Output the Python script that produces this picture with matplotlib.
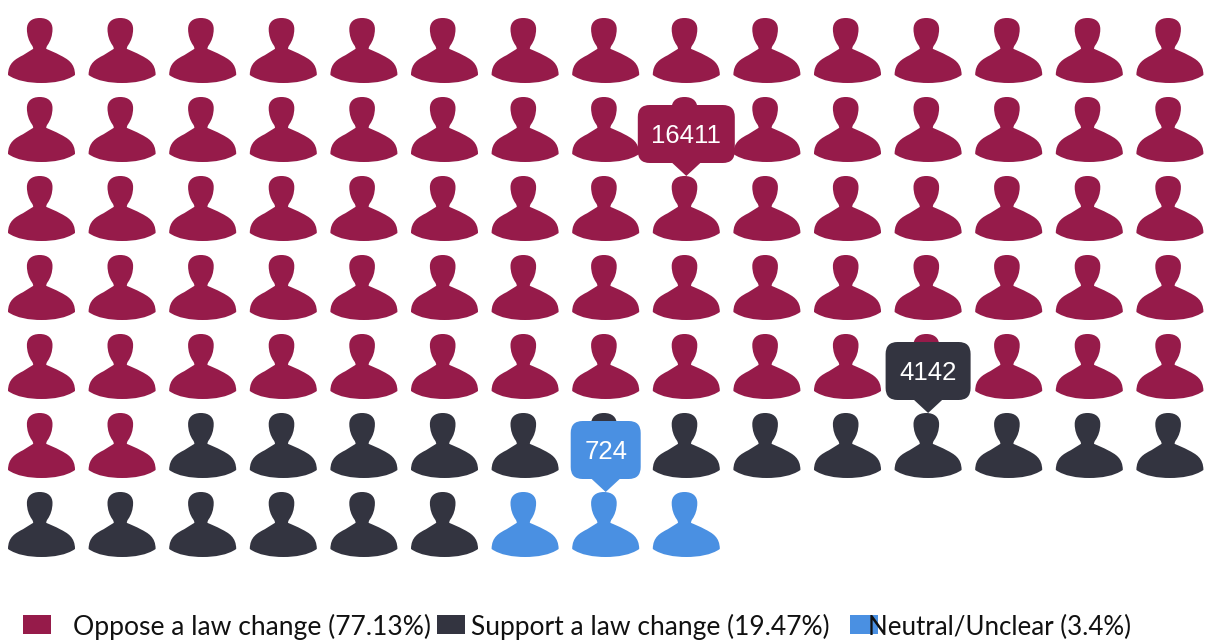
import matplotlib
matplotlib.use("Agg")
import matplotlib.pyplot as plt
from matplotlib.path import Path
from matplotlib.patches import PathPatch, Rectangle
import numpy as np

categories = ["Oppose a law change", "Support a law change", "Neutral/Unclear"]
icon_counts = [77, 19, 3]
percentages = ["77.13%", "19.47%", "3.4%"]
tooltip_values = [16411, 4142, 724]
colors = ["#961B4A", "#333440", "#4A90E2"]

COLS = 15
X0, DX = 41.5, 80.6
Y0, DY = 50.5, 79.0
tooltip_icon_index = [38, 86, 97]      # slot of the icon each tooltip points at
tooltip_half_w = [48.5, 42.5, 35]

dpi = 100
fig = plt.figure(figsize=(12.08, 6.44), dpi=dpi)
ax = fig.add_axes([0, 0, 1, 1])
ax.set_xlim(0, 1208)
ax.set_ylim(644, 0)
ax.axis("off")

# person silhouette, offsets in px from the icon centre (y down)
M, C, L, Z = Path.MOVETO, Path.CURVE4, Path.LINETO, Path.CLOSEPOLY
hx = -1.8  # the head sits slightly left of the shoulders
pts = [(hx, -32.5),
       (hx + 8.5, -32.5), (hx + 12.8, -28), (hx + 12.8, -21.5),      # crown R
       (hx + 12.8, -15), (hx + 10.8, -9.5), (hx + 8, -5.5),          # jaw R
       (hx + 6.8, -3.8), (hx + 6.4, -2.6), (4.8, -1.6),              # neck R
       (9, 0.2), (14, 2.2), (18.5, 4.7),                             # shoulder slope R
       (26, 8.5), (33.5, 12.5), (33.5, 24.5),                        # shoulder R
       (25, 30.5), (12, 32.5), (0, 32.5),                            # base R
       (-12, 32.5), (-25, 30.5), (-33.5, 24.5),                      # base L
       (-33.5, 12.5), (-26, 8.5), (-18.5, 4.7),                      # shoulder L
       (-15, 2.6), (-11.5, 0.2), (-8.4, -1.6),                       # shoulder slope L
       (hx - 6.4, -2.6), (hx - 6.8, -3.8), (hx - 8, -5.5),           # neck L
       (hx - 10.8, -9.5), (hx - 12.8, -15), (hx - 12.8, -21.5),      # jaw L
       (hx - 12.8, -28), (hx - 8.5, -32.5), (hx, -32.5),             # crown L
       (hx, -32.5)]
codes = [M] + [C] * (len(pts) - 2) + [Z]
verts = np.array(pts, float) / 33.5
verts[:, 1] *= -1
person = Path(verts, codes)
size_pts = 67 * 72 / dpi

slot = 0
centres = []
icon_colors = []
for count, col in zip(icon_counts, colors):
    for _ in range(count):
        centres.append((X0 + DX * (slot % COLS), Y0 + DY * (slot // COLS)))
        icon_colors.append(col)
        slot += 1
centres = np.array(centres)
ax.scatter(centres[:, 0], centres[:, 1], marker=person, s=size_pts ** 2,
           c=icon_colors, linewidths=0, zorder=2)

# tooltips
for value, idx, hw, col in zip(tooltip_values, tooltip_icon_index, tooltip_half_w, colors):
    cx, cy = centres[idx]
    tip = cy - 32.5
    bottom, top = tip - 13, tip - 71
    l, r = cx - hw, cx + hw
    rad = 12
    tv = [(l + rad, top), (r - rad, top), (r, top), (r, top + rad),
          (r, bottom - rad), (r, bottom), (r - rad, bottom),
          (cx + 14, bottom), (cx, tip), (cx - 14, bottom),
          (l + rad, bottom), (l, bottom), (l, bottom - rad),
          (l, top + rad), (l, top), (l + rad, top), (l + rad, top)]
    q = Path.CURVE3
    tc = [M, L, q, q, L, q, q, L, L, L, L, q, q, L, q, q, Z]
    ax.add_patch(PathPatch(Path(tv, tc), fc=col, ec="none", zorder=3))
    ax.text(cx, (top + bottom) / 2 + 1.5, str(value), color="white", ha="center",
            va="center", fontsize=18.5, family="Liberation Sans", zorder=4)

# legend
sq_x = [23, 437, 850]
txt_x = [73, 471, 868]
txt_size = [19.1, 19, 18.6]
for name, pct, col, sx, tx, fs in zip(categories, percentages, colors, sq_x, txt_x, txt_size):
    ax.add_patch(Rectangle((sx, 615), 28, 19, fc=col, ec="none", zorder=2))
    ax.text(tx, 635, f"{name} ({pct})", color="#111111", ha="left",
            va="baseline", fontsize=fs, family="Lato", zorder=3)

fig.savefig("out.png", dpi=dpi, facecolor="white")
